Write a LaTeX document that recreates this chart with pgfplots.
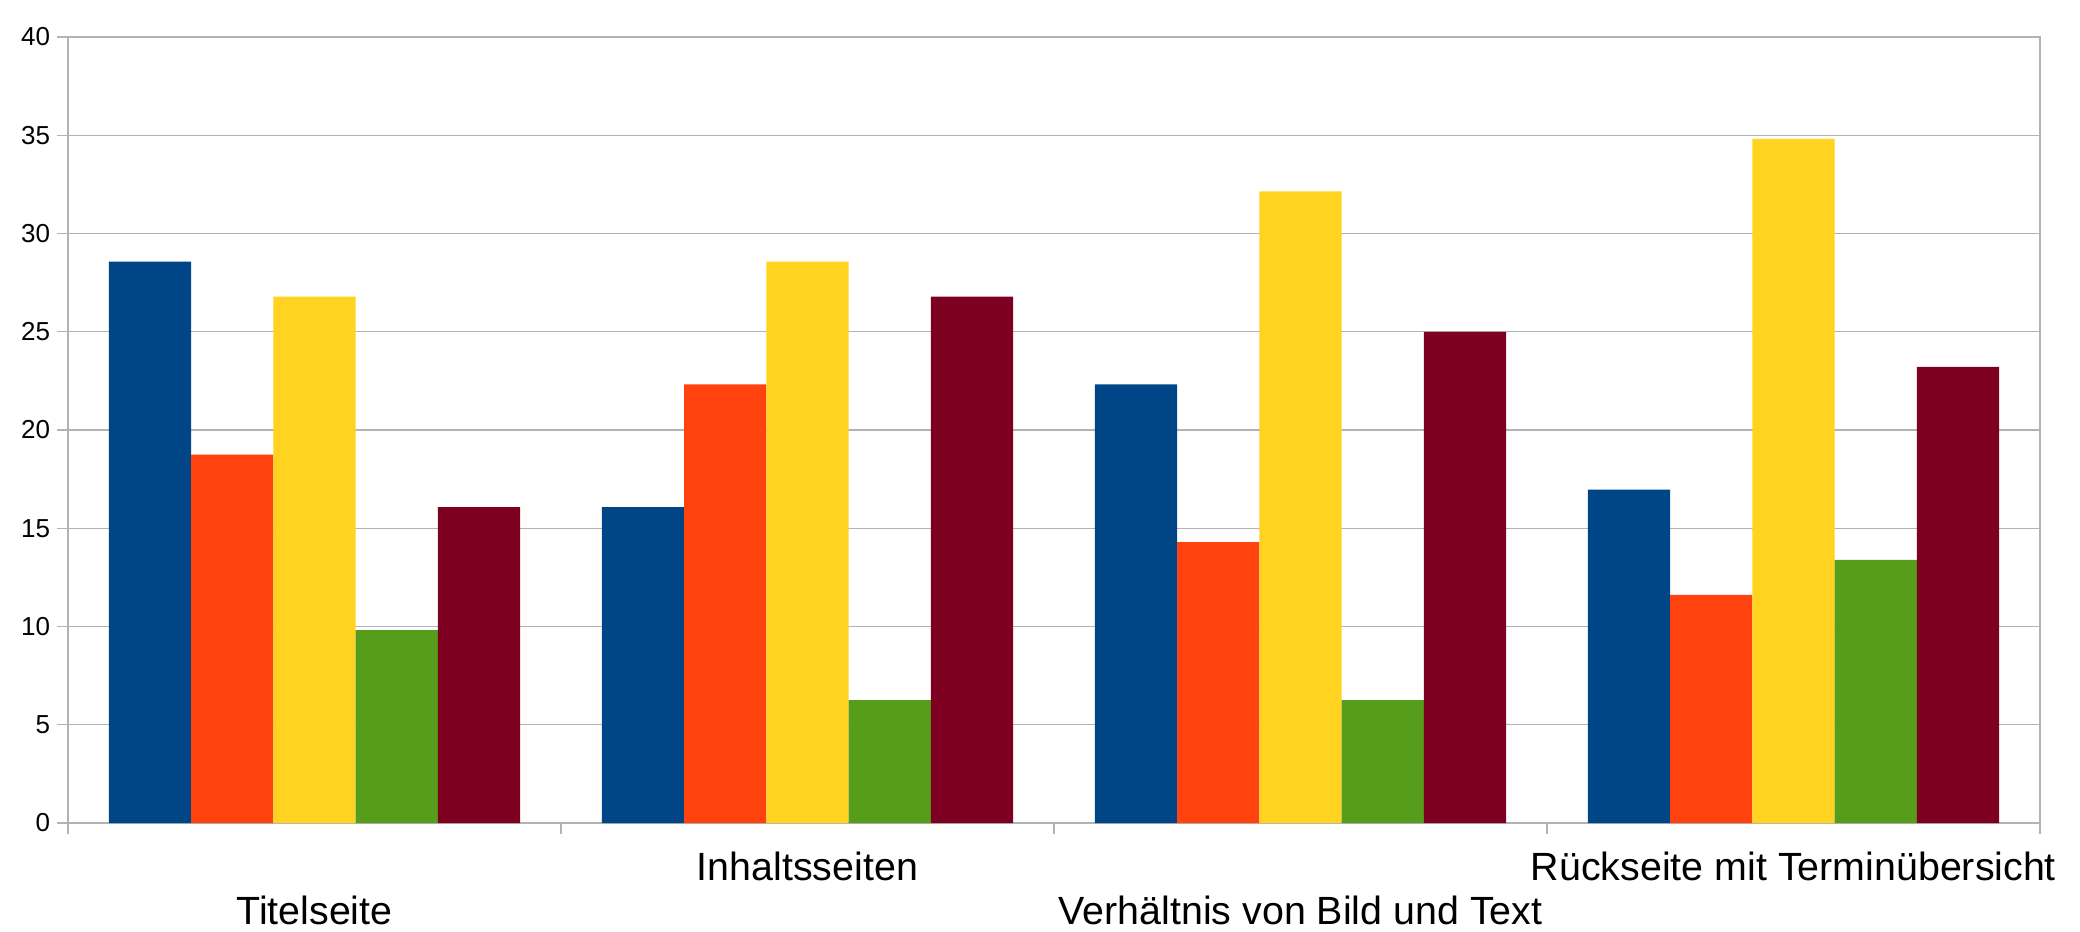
\documentclass[border=0pt]{standalone}
\usepackage{fontspec}
\setmainfont{Liberation Sans}
\usepackage{pgfplots}
\pgfplotsset{compat=1.18}
\definecolor{c1}{HTML}{004586}
\definecolor{c2}{HTML}{FF420E}
\definecolor{c3}{HTML}{FFD320}
\definecolor{c4}{HTML}{579D1C}
\definecolor{c5}{HTML}{7E0021}
\definecolor{axgray}{HTML}{B3B3B3}
\begin{document}
\begin{tikzpicture}
  \begin{axis}[
    scale only axis,
    width=197.2mm, height=78.6mm,
    ybar=0pt, bar width=0.1669,
    xmin=-0.5, xmax=3.5, ymin=0, ymax=40,
    ytick={0,5,...,40},
    xtick={-0.5,0.5,1.5,2.5,3.5}, xticklabels={},
    extra x ticks={0,1,2,3},
    extra x tick labels={{\raisebox{-4.5mm}{Titelseite}},{Inhaltsseiten},{\raisebox{-4.5mm}{Verhältnis von Bild und Text}},{Rückseite mit Terminübersicht}},
    extra x tick style={major tick length=0pt,
      xticklabel style={anchor=base, yshift=-5.7mm, font=\fontsize{11.2}{13.4}\selectfont}},
    xtick pos=bottom, ytick pos=left,
    tick align=outside, major tick length=1.1mm,
    tick style={draw=axgray, line width=0.13mm},
    axis line style={draw=axgray, line width=0.13mm},
    ymajorgrids, grid style={draw=axgray, line width=0.13mm},
    tick label style={font=\fontsize{7.4}{9}\selectfont},
    yticklabel style={xshift=0.55mm},
    /pgf/number format/assume math mode=true,
  ]
    \coordinate (bl) at (rel axis cs:0,0);
    \addplot[fill=c1, draw=none] coordinates {(0,28.57) (1,16.07) (2,22.32) (3,16.96)};
    \addplot[fill=c2, draw=none] coordinates {(0,18.75) (1,22.32) (2,14.29) (3,11.61)};
    \addplot[fill=c3, draw=none] coordinates {(0,26.79) (1,28.57) (2,32.14) (3,34.82)};
    \addplot[fill=c4, draw=none] coordinates {(0,9.82) (1,6.25) (2,6.25) (3,13.39)};
    \addplot[fill=c5, draw=none] coordinates {(0,16.07) (1,26.79) (2,25.00) (3,23.21)};
  \end{axis}
  \pgfresetboundingbox
  \path (bl) ++(-6.8mm,-10.9mm) rectangle ++(208mm,93.2mm);
\end{tikzpicture}
\end{document}
